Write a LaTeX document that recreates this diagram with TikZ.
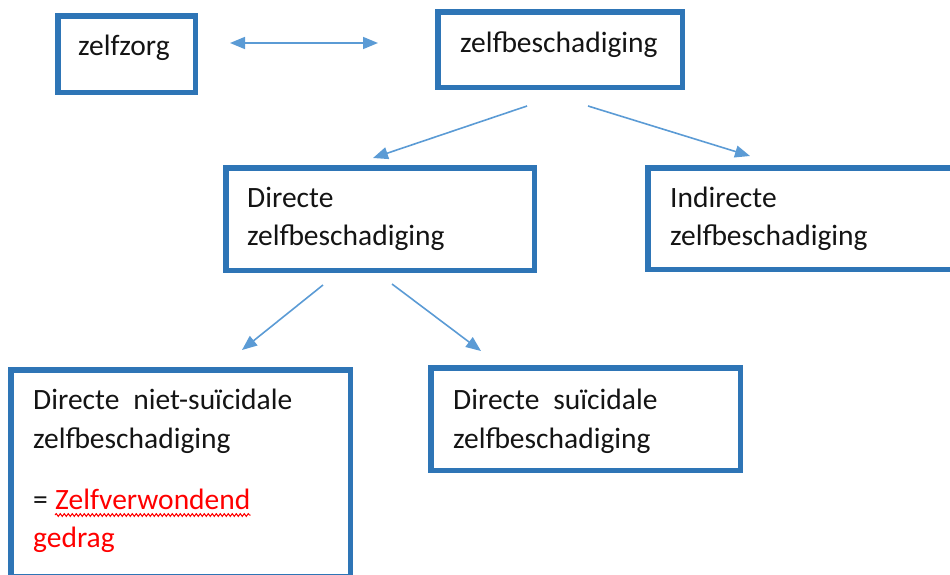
\documentclass[tikz,border=0pt]{standalone}
\usepackage{fontspec}
\setmainfont{Carlito}
\usetikzlibrary{arrows.meta,decorations.pathmorphing}
\definecolor{boxblue}{RGB}{46,117,182}
\definecolor{arrowblue}{RGB}{91,155,213}
\definecolor{txtred}{RGB}{255,0,0}
\definecolor{txt}{RGB}{20,20,20}
\tikzset{
  boxnode/.style={draw=boxblue, line width=5.5pt, rectangle, inner sep=0pt},
  txtnode/.style={anchor=base west, inner sep=0pt, text=txt, font=\fontsize{29.5}{38.5}\selectfont},
  conn/.style={draw=arrowblue, line width=1.6pt, -{Triangle[length=15pt,width=12pt]}},
  dconn/.style={draw=arrowblue, line width=1.6pt, {Triangle[length=15pt,width=12pt]}-{Triangle[length=15pt,width=12pt]}}
}
\begin{document}
\begin{tikzpicture}[x=1pt,y=-1pt]
\useasboundingbox (0,0) rectangle (950,574);
% boxes
\node[boxnode, minimum width=137.5pt, minimum height=76.5pt] (zz) at (126.5,54) {};
\node[boxnode, minimum width=244.5pt, minimum height=75.5pt] (zb) at (560,49.5) {};
\node[boxnode, minimum width=308.5pt, minimum height=102.5pt] (dz) at (380,219) {};
\node[boxnode, minimum width=339.5pt, minimum height=101.5pt] (iz) at (817.5,218.5) {};
\node[boxnode, minimum width=339.5pt, minimum height=206.5pt] (nd) at (180.5,473) {};
\node[boxnode, minimum width=309.5pt, minimum height=102.5pt] (ds) at (585.5,419) {};
% texts
\node[txtnode] (tzz) at (78,55) {zelfzorg};
\node[txtnode] (tzb) at (460,52) {zelfbeschadiging};
\node[txtnode] (tdz1) at (247,207) {Directe};
\node[txtnode] (tdz2) at (247,245) {zelfbeschadiging};
\node[txtnode] (tiz1) at (670,207) {Indirecte};
\node[txtnode] (tiz2) at (670,245) {zelfbeschadiging};
\node[txtnode] (tnd1) at (33,409) {Directe\hspace{14pt}niet-suïcidale};
\node[txtnode] (tnd2) at (33,448) {zelfbeschadiging};
\node[txtnode] (tnd3) at (33,509) {=};
\node[txtnode, text=txtred] (tnd4) at (55,509) {Zelfverwondend};
\node[txtnode, text=txtred] (tnd5) at (33,547) {gedrag};
\node[txtnode] (tds1) at (453,409) {Directe\hspace{14pt}suïcidale};
\node[txtnode] (tds2) at (453,448) {zelfbeschadiging};
% wavy underline
\draw[txtred, line width=1pt, decorate, decoration={snake, amplitude=1.4pt, segment length=4pt}]
  ([yshift=-6pt]tnd4.base west) -- ([yshift=-6pt]tnd4.base east);
% connector end points
\coordinate (a1) at (230,43);
\coordinate (a2) at (378,43);
\coordinate (b1) at (527,106);
\coordinate (b2) at (373,158);
\coordinate (c1) at (588,106);
\coordinate (c2) at (750,156);
\coordinate (d1) at (323,285);
\coordinate (d2) at (242,350);
\coordinate (e1) at (392,284);
\coordinate (e2) at (481,351);
\draw[dconn] (a1) -- (a2);
\draw[conn] (b1) -- (b2);
\draw[conn] (c1) -- (c2);
\draw[conn] (d1) -- (d2);
\draw[conn] (e1) -- (e2);
\end{tikzpicture}
\end{document}
